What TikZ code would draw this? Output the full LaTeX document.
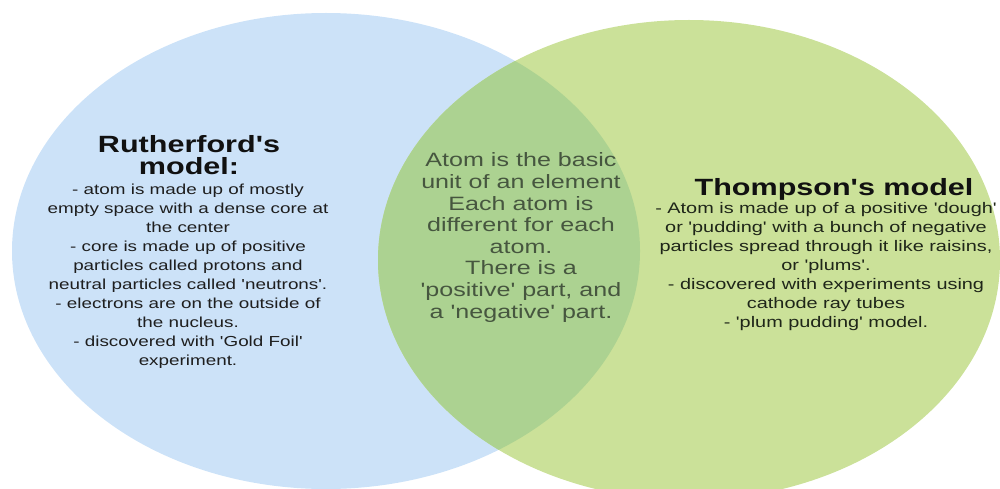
\documentclass[tikz,border=0pt]{standalone}
\usepackage{fontspec}
% Liberation Sans, widened to suit the stretched layout of the diagram
\newfontfamily\diagfont[FakeStretch=1.3]{Liberation Sans}
\definecolor{leftblue}{HTML}{CCE2F8}
\definecolor{rightgreen}{HTML}{CBE199}
\definecolor{overlapgreen}{HTML}{ACD291}
\definecolor{titleink}{HTML}{111111}
\definecolor{leftink}{HTML}{1E1E1E}
\definecolor{rightink}{HTML}{1F2619}
\definecolor{middleink}{HTML}{46563F}
% centred lines whose box baseline is that of the first line
\newcommand\blocklines[1]{\begin{tabular}[t]{@{}c@{}}#1\end{tabular}}

\begin{document}
\begin{tikzpicture}[x=1pt,y=-1pt,
  textbase/.style={anchor=base, inner sep=0pt},
  titletext/.style={textbase, text=titleink, font=\diagfont\bfseries\fontsize{23.5}{26}\selectfont},
  lefttext/.style={textbase, text=leftink, font=\diagfont\fontsize{14.5}{19.1}\selectfont},
  righttext/.style={textbase, text=rightink, font=\diagfont\fontsize{15.3}{19}\selectfont},
  middletext/.style={textbase, text=middleink, font=\diagfont\fontsize{19.3}{21.6}\selectfont}]
\useasboundingbox (0,0) rectangle (1000,489);

% the two sets
\fill[leftblue] (326,251) ellipse [x radius=314, y radius=238];
\fill[rightgreen] (689,260) ellipse [x radius=311, y radius=240];
% their overlap
\begin{scope}
  \clip (326,251) ellipse [x radius=314, y radius=238];
  \fill[overlapgreen] (689,260) ellipse [x radius=311, y radius=240];
\end{scope}

% Rutherford
\node[titletext] (ruthA) at (189,153) {Rutherford's};
\node[titletext] (ruthB) at (189,175) {model:};
\node[lefttext] (ruthbody) at (188,194) {\blocklines{- atom is made up of mostly\\
empty space with a dense core at\\
the center\\
- core is made up of positive\\
particles called protons and\\
neutral particles called 'neutrons'.\\
- electrons are on the outside of\\
the nucleus.\\
- discovered with 'Gold Foil'\\
experiment.}};

% shared ideas
\node[middletext] (common) at (521,167) {\blocklines{Atom is the basic\\
unit of an element\\
Each atom is\\
different for each\\
atom.\\
There is a\\
'positive' part, and\\
a 'negative' part.}};

% Thompson
\node[titletext] (thomA) at (834,195) {Thompson's model};
\node[righttext] (thombody) at (826,213) {\blocklines{- Atom is made up of a positive 'dough'\\
or 'pudding' with a bunch of negative\\
particles spread through it like raisins,\\
or 'plums'.\\
- discovered with experiments using\\
cathode ray tubes\\
- 'plum pudding' model.}};
\end{tikzpicture}
\end{document}
